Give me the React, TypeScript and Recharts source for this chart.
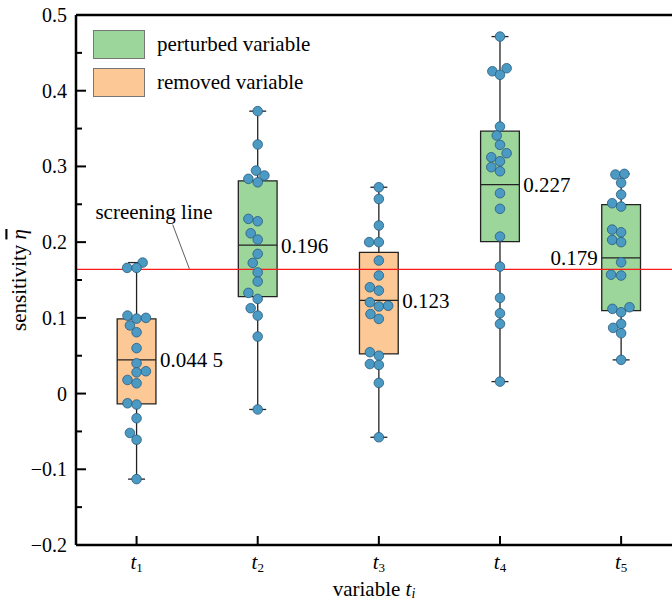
import React from 'react';
import {
  ComposedChart,
  Scatter,
  XAxis,
  YAxis,
  ReferenceArea,
  ReferenceLine,
  ReferenceDot,
  Legend,
} from 'recharts';

const FONT = 'Liberation Serif';

// variables t1..t5 (x position = index + 1)
const categories = ['1', '2', '3', '4', '5'];
const kinds = ['removed', 'perturbed', 'removed', 'perturbed', 'perturbed'];
const medianLabels = ['0.044 5', '0.196', '0.123', '0.227', '0.179'];

// box statistics
const mins = [-0.113, -0.021, -0.0577, 0.0158, 0.0445];
const q1s = [-0.0136, 0.128, 0.0524, 0.2008, 0.1096];
const medians = [0.0445, 0.196, 0.123, 0.276, 0.1792];
const q3s = [0.0986, 0.281, 0.1866, 0.3465, 0.2496];
const maxs = [0.173, 0.373, 0.2725, 0.4715, 0.2902];

// individual sensitivity values and their swarm offsets
const t1Values = [0.173, 0.166, 0.166, 0.103, 0.099, 0.1, 0.09, 0.081, 0.06, 0.04, 0.0295, 0.028, 0.018, 0.0136, -0.0128, -0.0145, -0.0326, -0.052, -0.061, -0.113];
const t1Jitter = [0.05, -0.078, 0, -0.075, 0, 0.077, -0.055, 0, 0, 0, 0.077, 0, -0.075, 0, -0.075, 0, 0, -0.055, 0, 0];
const t2Values = [0.373, 0.329, 0.2945, 0.288, 0.2836, 0.279, 0.2307, 0.2276, 0.2117, 0.2034, 0.1845, 0.1726, 0.16, 0.148, 0.133, 0.125, 0.1127, 0.103, 0.0753, -0.021];
const t2Jitter = [0, 0, -0.014, 0.055, -0.077, 0, -0.077, 0, -0.058, 0, 0, -0.041, 0, 0, -0.077, 0, -0.058, 0, 0, 0];
const t3Values = [0.2725, 0.257, 0.222, 0.2, 0.2, 0.1757, 0.1559, 0.1404, 0.136, 0.1206, 0.115, 0.116, 0.105, 0.0986, 0.0546, 0.05, 0.039, 0.0378, 0.0141, -0.0577];
const t3Jitter = [0, 0, 0, -0.08, 0, 0, 0, -0.074, 0, -0.074, 0, 0.077, -0.069, 0, -0.074, 0, -0.074, 0, 0, 0];
const t4Values = [0.4715, 0.4257, 0.4297, 0.421, 0.3527, 0.3408, 0.3285, 0.3174, 0.3121, 0.3068, 0.299, 0.2936, 0.2646, 0.244, 0.2074, 0.1677, 0.1264, 0.106, 0.092, 0.0158];
const t4Jitter = [0, -0.063, 0.055, 0, 0, -0.027, 0, 0.055, -0.072, 0, -0.072, 0, 0, 0, 0, 0, 0, 0, 0, 0];
const t5Values = [0.2893, 0.2902, 0.2783, 0.2628, 0.2514, 0.247, 0.2166, 0.213, 0.203, 0.2, 0.1734, 0.157, 0.1559, 0.1119, 0.1074, 0.114, 0.092, 0.0868, 0.0797, 0.0445];
const t5Jitter = [-0.047, 0.027, 0, 0, -0.074, 0, -0.074, 0, -0.074, 0, 0, -0.083, 0, -0.072, 0, 0.069, 0, -0.066, 0, 0];

const screeningValue = 0.164;
const yTicks = [-0.2, -0.15, -0.1, -0.05, 0, 0.05, 0.1, 0.15, 0.2, 0.25, 0.3, 0.35, 0.4, 0.45, 0.5];
const xTicks = [1, 2, 3, 4, 5];

const allValues = [t1Values, t2Values, t3Values, t4Values, t5Values];
const allJitter = [t1Jitter, t2Jitter, t3Jitter, t4Jitter, t5Jitter];
const points = allValues.flatMap((vals, i) =>
  vals.map((y, j) => ({ x: i + 1 + allJitter[i][j], y }))
);

const FILL = { perturbed: '#9dd69a', removed: '#fcc895' } as Record<string, string>;
const HALF = 0.16;
const CAP = 0.07;

const YTick = (props: any) => {
  const { x, y, payload } = props;
  const v = payload.value;
  const major = Math.abs(v * 10 - Math.round(v * 10)) < 1e-6;
  const label = Math.abs(v) < 1e-9 ? '0' : (v < 0 ? '\u2212' : '') + Math.abs(v).toFixed(1);
  return (
    <g>
      <line x1={x} x2={x + (major ? 10 : 6)} y1={y} y2={y} stroke="#000" strokeWidth={2} />
      {major && (
        <text x={x - 9} y={y} dy="0.35em" textAnchor="end" fontSize={20} fontFamily={FONT} fill="#000">
          {label}
        </text>
      )}
    </g>
  );
};

const XTick = (props: any) => {
  const { x, y, payload } = props;
  return (
    <g>
      <line x1={x} x2={x} y1={y} y2={y - 9} stroke="#000" strokeWidth={2} />
      <text x={x} y={y + 24} textAnchor="middle" fontSize={21} fontFamily={FONT} fill="#000">
        <tspan fontStyle="italic">t</tspan>
        <tspan fontSize={13} dy={3}>{categories[payload.value - 1]}</tspan>
      </text>
    </g>
  );
};

const YTitle = (props: any) => {
  const vb = props.viewBox;
  const cy = vb.y + vb.height / 2;
  return (
    <text transform={`translate(19, ${cy}) rotate(-90)`} textAnchor="middle" dy="0.35em" fontSize={21} fontFamily={FONT} fill="#000">
      sensitivity <tspan fontStyle="italic" textDecoration="overline">{'\u03b7'}</tspan>
    </text>
  );
};

const XTitle = (props: any) => {
  const vb = props.viewBox;
  return (
    <text x={vb.x + vb.width / 2} y={vb.y + 51} textAnchor="middle" fontSize={21} fontFamily={FONT} fill="#000">
      variable <tspan fontStyle="italic">t</tspan>
      <tspan fontStyle="italic" fontSize={14} dy={2}>i</tspan>
    </text>
  );
};

const legendItems = [
  { label: 'perturbed variable', color: FILL.perturbed },
  { label: 'removed variable', color: FILL.removed },
];

const renderLegend = () => (
  <div style={{ fontFamily: FONT, fontSize: 21, color: '#000' }}>
    {legendItems.map((it) => (
      <div key={it.label} style={{ display: 'flex', alignItems: 'center', height: 30, marginBottom: 8 }}>
        <div style={{ width: 52, height: 29, background: it.color, border: '1px solid #777', boxSizing: 'border-box' }} />
        <span style={{ marginLeft: 12, lineHeight: '30px' }}>{it.label}</span>
      </div>
    ))}
  </div>
);

const Dot = (props: any) => (
  <circle cx={props.cx} cy={props.cy} r={4.8} fill="#4a9ac4" stroke="#2b5b7c" strokeWidth={0.8} />
);

export default function App() {
  return (
    <div style={{ width: 672, height: 602, position: 'relative', background: '#fff', fontFamily: FONT }}>
      <style>{'body{margin:0}'}</style>
      <ComposedChart width={672} height={602} margin={{ top: 15, right: 0, bottom: 27, left: 0 }}>
        <XAxis
          type="number"
          dataKey="x"
          domain={[0.5, 5.42]}
          ticks={xTicks}
          height={30}
          tickSize={0}
          tickMargin={0}
          tick={<XTick />}
          axisLine={{ stroke: '#000', strokeWidth: 2.5 }}
          tickLine={false}
          allowDataOverflow
          label={{ content: XTitle }}
        />
        <YAxis
          type="number"
          dataKey="y"
          domain={[-0.2, 0.5]}
          ticks={yTicks}
          width={76}
          tickSize={0}
          tickMargin={0}
          tick={<YTick />}
          axisLine={{ stroke: '#000', strokeWidth: 2.5 }}
          tickLine={false}
          interval={0}
          allowDataOverflow
          label={{ content: YTitle }}
        />
        <Legend
          layout="horizontal"
          verticalAlign="middle"
          align="center"
          content={renderLegend}
          wrapperStyle={{ position: 'absolute', left: 93, top: 29, width: 260 }}
        />
        <ReferenceLine y={0.5} stroke="#000" strokeWidth={2.5} />

        {categories.map((c, i) => (
          <ReferenceLine
            key={`wl${c}`}
            segment={[{ x: i + 1, y: mins[i] }, { x: i + 1, y: q1s[i] }]}
            stroke="#222"
            strokeWidth={1.3}
          />
        ))}
        {categories.map((c, i) => (
          <ReferenceLine
            key={`wh${c}`}
            segment={[{ x: i + 1, y: q3s[i] }, { x: i + 1, y: maxs[i] }]}
            stroke="#222"
            strokeWidth={1.3}
          />
        ))}
        {categories.map((c, i) => (
          <ReferenceLine
            key={`cl${c}`}
            segment={[{ x: i + 1 - CAP, y: mins[i] }, { x: i + 1 + CAP, y: mins[i] }]}
            stroke="#222"
            strokeWidth={1.3}
          />
        ))}
        {categories.map((c, i) => (
          <ReferenceLine
            key={`ch${c}`}
            segment={[{ x: i + 1 - CAP, y: maxs[i] }, { x: i + 1 + CAP, y: maxs[i] }]}
            stroke="#222"
            strokeWidth={1.3}
          />
        ))}
        {categories.map((c, i) => (
          <ReferenceArea
            key={`box${c}`}
            x1={i + 1 - HALF}
            x2={i + 1 + HALF}
            y1={q1s[i]}
            y2={q3s[i]}
            fill={FILL[kinds[i]]}
            fillOpacity={1}
            stroke="#222"
            strokeWidth={1.3}
          />
        ))}
        {categories.map((c, i) => (
          <ReferenceLine
            key={`med${c}`}
            segment={[{ x: i + 1 - HALF, y: medians[i] }, { x: i + 1 + HALF, y: medians[i] }]}
            stroke="#222"
            strokeWidth={1.3}
          />
        ))}

        <ReferenceLine y={screeningValue} stroke="#ff1a1a" strokeWidth={1.4} strokeOpacity={1} />
        <ReferenceLine
          segment={[{ x: 1.298, y: 0.2232 }, { x: 1.436, y: 0.1647 }]}
          stroke="#333"
          strokeWidth={0.8}
        />
        <ReferenceDot
          x={1.144}
          y={0.2404}
          r={0}
          fill="none"
          stroke="none"
          label={{ value: 'screening line', position: 'center', fontSize: 21, fontFamily: FONT, fill: '#000' }}
        />

        <Scatter data={points} shape={<Dot />} isAnimationActive={false} />

        {categories.map((c, i) => (
          <ReferenceDot
            key={`lab${c}`}
            x={i === 4 ? i + 1 - HALF : i + 1 + HALF}
            y={medians[i]}
            r={0}
            fill="none"
            stroke="none"
            label={{
              value: medianLabels[i],
              position: i === 4 ? 'left' : 'right',
              offset: 4,
              fontSize: 21,
              fontFamily: FONT,
              fill: '#000',
            }}
          />
        ))}
      </ComposedChart>
    </div>
  );
}
